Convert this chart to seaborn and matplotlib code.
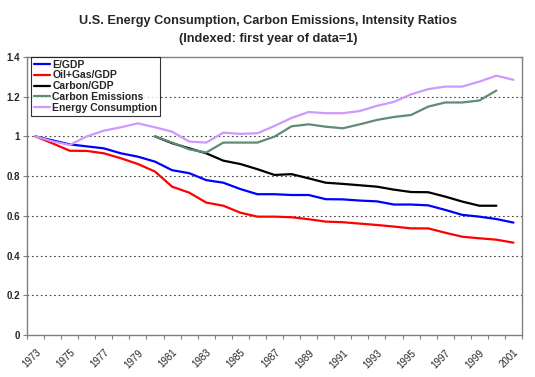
import numpy as np
import pandas as pd
import matplotlib
matplotlib.use("Agg")
import matplotlib.pyplot as plt
import seaborn as sns

years = list(range(1973, 2002))

e_gdp = [1.0, 0.98, 0.96, 0.95, 0.94, 0.915, 0.898, 0.873, 0.83, 0.815,
         0.78, 0.767, 0.735, 0.709, 0.709, 0.705, 0.705, 0.684, 0.683, 0.677,
         0.673, 0.657, 0.657, 0.653, 0.63, 0.605, 0.596, 0.584, 0.566]
oil_gas_gdp = [1.0, 0.965, 0.928, 0.927, 0.915, 0.89, 0.861, 0.823, 0.747, 0.717,
               0.667, 0.651, 0.616, 0.596, 0.596, 0.593, 0.583, 0.571, 0.568, 0.561,
               0.554, 0.546, 0.537, 0.537, 0.515, 0.495, 0.487, 0.48, 0.465]
carbon_years = list(range(1980, 2001))
carbon_gdp = [1.0, 0.966, 0.94, 0.915, 0.878, 0.861, 0.835, 0.806, 0.81, 0.789,
              0.767, 0.761, 0.754, 0.747, 0.732, 0.72, 0.719, 0.697, 0.672, 0.651, 0.651]
carbon_emissions = [1.0, 0.969, 0.935, 0.919, 0.969, 0.969, 0.969, 0.999, 1.051, 1.061,
                    1.049, 1.041, 1.061, 1.083, 1.098, 1.108, 1.15, 1.171, 1.171, 1.181, 1.231]
energy_consumption = [1.0, 0.975, 0.957, 1.0, 1.029, 1.046, 1.066, 1.046, 1.024, 0.974,
                      0.969, 1.019, 1.013, 1.016, 1.053, 1.093, 1.123, 1.117, 1.117, 1.128,
                      1.154, 1.174, 1.212, 1.238, 1.251, 1.251, 1.276, 1.306, 1.285]

series_names = ["E/GDP", "Oil+Gas/GDP", "Carbon/GDP", "Carbon Emissions", "Energy Consumption"]
series_colors = ["#0000FF", "#FF0000", "#000000", "#5E8C74", "#CC99FF"]
y_ticks = [0, 0.2, 0.4, 0.6, 0.8, 1, 1.2, 1.4]
y_tick_labels = ["0", "0.2", "0.4", "0.6", "0.8", "1", "1.2", "1.4"]
x_tick_years = years[::2]

frames = [
    pd.DataFrame({"year": years, "value": e_gdp, "series": series_names[0]}),
    pd.DataFrame({"year": years, "value": oil_gas_gdp, "series": series_names[1]}),
    pd.DataFrame({"year": carbon_years, "value": carbon_gdp, "series": series_names[2]}),
    pd.DataFrame({"year": carbon_years, "value": carbon_emissions, "series": series_names[3]}),
    pd.DataFrame({"year": years, "value": energy_consumption, "series": series_names[4]}),
]
df = pd.concat(frames, ignore_index=True)

sns.set_style("white")
plt.rcParams["font.family"] = ["Liberation Sans", "DejaVu Sans"]

fig = plt.figure(figsize=(5.35, 3.77), dpi=100)
ax = fig.add_axes([27 / 535, 42 / 377, (522 - 27) / 535, (335 - 57) / 377])

sns.lineplot(data=df, x="year", y="value", hue="series", hue_order=series_names,
             palette=dict(zip(series_names, series_colors)), linewidth=1.6,
             ax=ax, legend=True)

ax.set_xlim(1972.5, 2001.5)
ax.set_ylim(0, 1.4)
ax.set_xlabel("")
ax.set_ylabel("")

# grid
for yv in y_ticks[1:-1]:
    ax.axhline(yv, color="#444444", linewidth=0.8, linestyle=(0, (1.5, 2.5)), zorder=0)

ax.set_yticks(y_ticks)
ax.set_yticklabels(y_tick_labels, fontsize=7, fontweight="bold")
ax.tick_params(axis="y", direction="out", length=3, width=0.8, color="#808080", pad=2, left=True)

# x ticks between categories, labels at category centres
ax.set_xticks(np.arange(1972.5, 2002, 1))
ax.set_xticklabels([])
ax.tick_params(axis="x", which="major", direction="out", length=3, width=0.8, color="#808080", bottom=True)
ax.set_xticks(x_tick_years, minor=True)
ax.set_xticklabels([str(y) for y in x_tick_years], minor=True, rotation=45,
                   ha="right", rotation_mode="anchor", fontsize=7)
ax.tick_params(axis="x", which="minor", length=0, pad=9)

for s in ax.spines.values():
    s.set_color("#808080")
    s.set_linewidth(1.0)

handles, labels = ax.get_legend_handles_labels()
leg = ax.legend(handles, labels, loc="upper left", bbox_to_anchor=(0.008, 1.0),
                borderaxespad=0, frameon=True, fancybox=False,
                prop={"weight": "bold", "size": 7.5}, handlelength=1.6,
                handletextpad=0.2, labelspacing=0.08, borderpad=0.25)
leg.get_frame().set_edgecolor("#000000")
leg.get_frame().set_linewidth(0.8)
for line in leg.get_lines():
    line.set_linewidth(1.6)

fig.text(268 / 535, 1 - 21 / 377, "U.S. Energy Consumption, Carbon Emissions, Intensity Ratios",
         ha="center", va="center", fontsize=9.2, fontweight="bold")
fig.text(268 / 535, 1 - 39 / 377, "(Indexed: first year of data=1)",
         ha="center", va="center", fontsize=9.2, fontweight="bold")

fig.savefig("out.png", dpi=100, facecolor="white")
